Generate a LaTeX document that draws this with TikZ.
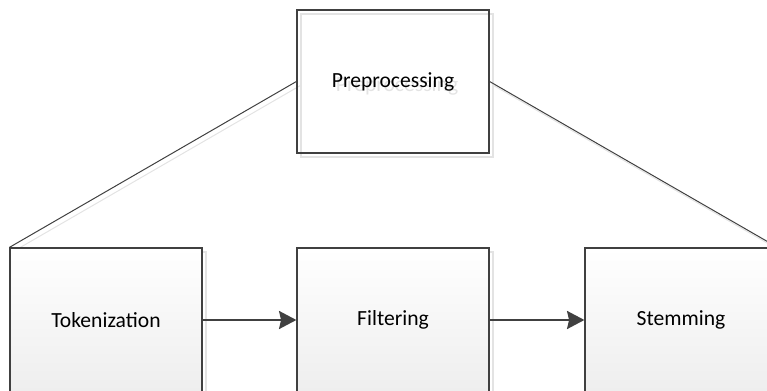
\documentclass[tikz,border=0pt]{standalone}
\usepackage{fontspec}
\setmainfont{Carlito}
\usetikzlibrary{arrows.meta}
\definecolor{edge}{HTML}{404040}
\definecolor{ghost}{HTML}{E3E3E3}
\definecolor{shadebot}{HTML}{EEEEEE}
\tikzset{
  stage/.style={draw=edge, line width=0.9pt, minimum width=144pt, minimum height=108pt,
    inner sep=0pt, font=\fontsize{16.2}{19}\selectfont, text=black},
  stagefill/.style={top color=white, bottom color=shadebot},
  ghoststage/.style={stage, draw=ghost, text=ghost},
  flow/.style={draw=edge, line width=1.7pt, -{Stealth[length=13pt,width=13.5pt,inset=1.5pt]}},
  link/.style={draw=edge, line width=0.75pt},
  ghostlink/.style={draw=ghost, line width=0.75pt},
}
\begin{document}
\begin{tikzpicture}[x=0.75pt,y=-0.75pt]
\useasboundingbox (0,0) rectangle (767,391);

% drop shadow layer
\begin{scope}[shift={(4,4)}]
  \node[ghoststage, minimum height=107.25pt] (spre) at (393,81.5) {Preprocessing};
  \node[ghoststage] (stok)  at (106,320) {};
  \node[ghoststage] (sfilt) at (393,320) {};
  \node[ghoststage] (sstem) at (681,320) {};
  \draw[ghostlink] (spre.west) -- (stok.north west);
  \draw[ghostlink] (spre.east) -- (sstem.north east);
\end{scope}

% main stages
\node[stage, minimum height=107.25pt] (pre) at (393,81.5) {Preprocessing};
\node[stage, stagefill] (tok)  at (106,320) {Tokenization};
\node[stage, stagefill] (filt) at (393,320) {Filtering};
\node[stage, stagefill] (stem) at (681,320) {Stemming};

% decomposition lines
\draw[link] (pre.west) -- (tok.north west);
\draw[link] (pre.east) -- (stem.north east);

% pipeline arrows
\draw[flow] (tok.east) -- (filt.west);
\draw[flow] (filt.east) -- (stem.west);
\end{tikzpicture}
\end{document}
